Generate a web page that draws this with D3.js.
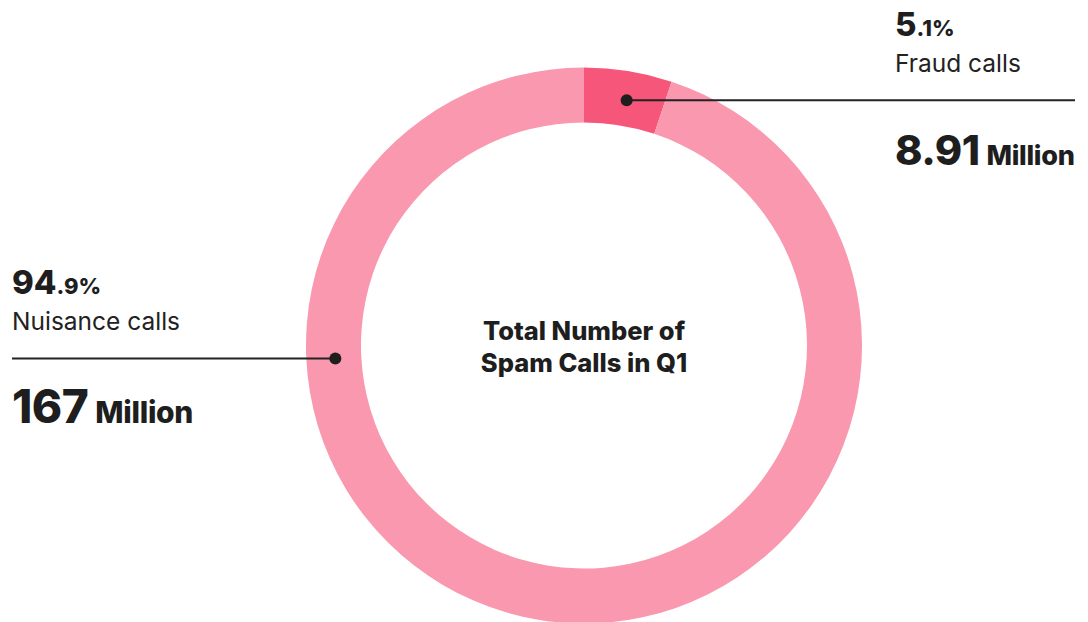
<!DOCTYPE html>
<html><head><meta charset="utf-8">
<script src="https://cdn.jsdelivr.net/npm/d3@7/dist/d3.min.js"></script>
<style>body{margin:0;background:#fff;}svg{display:block;font-family:Inter,sans-serif;font-variant-numeric:proportional-nums;}</style>
</head><body><svg id="c" width="1088" height="622"></svg>
<script>
const categories = ["Fraud calls", "Nuisance calls"];
const shares = [5.1, 94.9];
const shareMain = ["5", "94"];
const shareDec = [".1%", ".9%"];
const countMain = ["8.91", "167"];
const countUnit = ["Million", "Million"];
const colors = ["#f65679", "#f998ae"];
const centerTitle = ["Total Number of", "Spam Calls in Q1"];

const svg = d3.select("#c");
const cx = 584, cy = 345.5, rO = 278, rI = 223;
const g = svg.append("g").attr("transform", `translate(${cx},${cy})`);
const pie = d3.pie().sort(null).value(d => d)(shares);
const arc = d3.arc().innerRadius(rI).outerRadius(rO);
g.selectAll("path").data(pie).join("path").attr("d", arc).attr("fill", (d, i) => colors[i]);

const dotR = 249;
const fraudAng = (pie[0].startAngle + pie[0].endAngle) / 2 + 0.012;
const fx = cx + dotR * Math.sin(fraudAng), fy = cy - dotR * Math.cos(fraudAng);
const nuisAng = -Math.PI / 2 - Math.asin((358.5 - cy) / dotR) + 2 * Math.PI;
const nx = cx + dotR * Math.sin(nuisAng), ny = cy - dotR * Math.cos(nuisAng);
const rightEnd = 1075;

svg.append("line").attr("x1", fx).attr("y1", fy).attr("x2", rightEnd).attr("y2", fy).attr("stroke", "#222").attr("stroke-width", 2);
svg.append("circle").attr("cx", fx).attr("cy", fy).attr("r", 6).attr("fill", "#1e1e1e");
svg.append("line").attr("x1", 12).attr("y1", ny).attr("x2", nx).attr("y2", ny).attr("stroke", "#222").attr("stroke-width", 2);
svg.append("circle").attr("cx", nx).attr("cy", ny).attr("r", 6).attr("fill", "#1e1e1e");

function label(x, y0, i, maxRight) {
  const t1 = svg.append("text").attr("x", x).attr("y", y0).attr("fill", "#1e1e1e").attr("font-weight", 800);
  t1.append("tspan").attr("font-size", 33).text(shareMain[i]);
  t1.append("tspan").attr("font-size", 22).text(shareDec[i]);
  svg.append("text").attr("x", x).attr("y", y0 + 36).attr("fill", "#222").attr("font-size", 24.5).text(categories[i]);
  const t2 = svg.append("text").attr("x", x).attr("y", y0 + 129).attr("fill", "#1e1e1e").attr("font-weight", 800);
  const numSize = 46, unitSize = 30, gap = 7;
  const num = t2.append("tspan").attr("font-size", numSize).attr("letter-spacing", -0.5).text(countMain[i]);
  const unit = t2.append("tspan").attr("font-size", unitSize).attr("dx", gap).attr("letter-spacing", -0.3).text(countUnit[i]);
  if (maxRight) {
    const w = t2.node().getComputedTextLength() + gap;
    if (x + w > maxRight) {
      const k = (maxRight - x - gap) / (w - gap);
      num.attr("font-size", numSize * k);
      unit.attr("font-size", unitSize * k);
    }
  }
}
label(895, 36, 0, rightEnd);
label(12, 294, 1, null);

svg.append("text").attr("x", cx).attr("y", 340).attr("text-anchor", "middle").attr("font-weight", 800).attr("font-size", 25.5).attr("fill", "#1e1e1e").text(centerTitle[0]);
svg.append("text").attr("x", cx).attr("y", 372).attr("text-anchor", "middle").attr("font-weight", 800).attr("font-size", 25.5).attr("fill", "#1e1e1e").text(centerTitle[1]);
</script></body></html>
